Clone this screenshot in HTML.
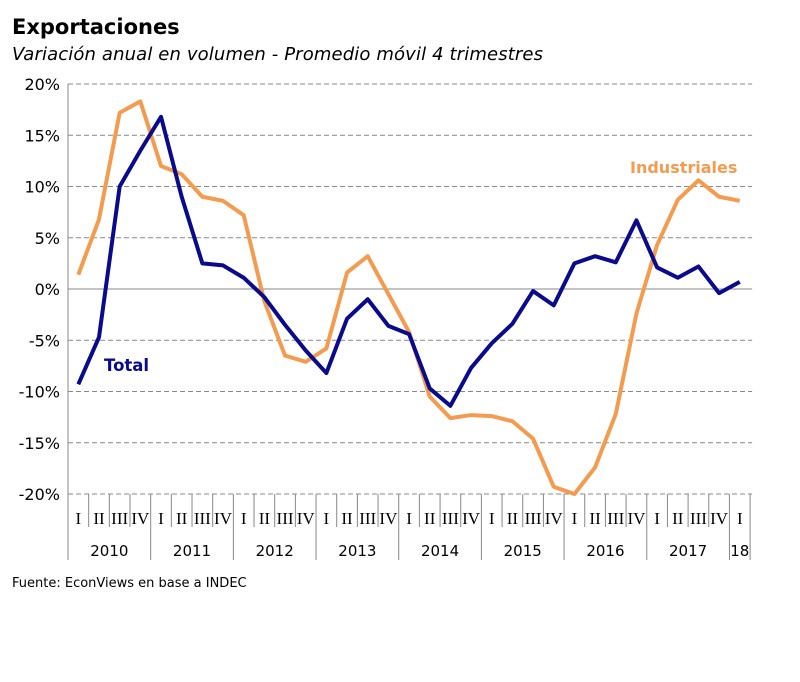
<!DOCTYPE html>
<html><head><meta charset="utf-8"><style>
body{margin:0;background:#fff;width:800px;height:682px;overflow:hidden}
svg{display:block}
</style></head><body>
<svg id="c" width="800" height="682" font-family="Liberation Sans, sans-serif">
<text x="12" y="34" font-size="21" font-weight="bold" font-family="DejaVu Sans, sans-serif" fill="#000">Exportaciones</text>
<text x="12" y="60" font-size="18" font-style="italic" font-family="DejaVu Sans, sans-serif" fill="#000" textLength="531">Variación anual en volumen - Promedio móvil 4 trimestres</text>
<text x="12" y="587" font-size="13" font-family="DejaVu Sans, sans-serif" fill="#000">Fuente: EconViews  en base a INDEC</text>
<g id="grid"></g><g id="axes"></g><g id="series"></g>
<text x="630" y="173" font-size="16" font-weight="bold" font-family="DejaVu Sans, sans-serif" fill="#f39c50">Industriales</text>
<text x="104" y="371" font-size="16.5" font-weight="bold" font-family="DejaVu Sans, sans-serif" fill="#0a0a8c">Total</text>
</svg>
<script>
const years=["2010","2011","2012","2013","2014","2015","2016","2017","18"];
const quarters=["I","II","III","IV"];
const yTicks=[20,15,10,5,0,-5,-10,-15,-20];
const total=[-9.3,-4.7,10,13.5,16.8,9,2.5,2.3,1.1,-0.8,-3.5,-6,-8.2,-2.9,-1,-3.6,-4.4,-9.7,-11.4,-7.7,-5.3,-3.4,-0.2,-1.6,2.5,3.2,2.6,6.7,2.1,1.1,2.2,-0.4,0.7];
const industriales=[1.4,6.8,17.2,18.3,12,11.2,9,8.6,7.2,-1.2,-6.5,-7.1,-5.8,1.6,3.2,-0.5,-4.2,-10.5,-12.6,-12.3,-12.4,-12.9,-14.6,-19.3,-20,-17.4,-12.2,-2.4,4.3,8.7,10.6,9,8.6];
const NS="http://www.w3.org/2000/svg";
const X0=68,QW=20.67,Y0=289,PPU=10.25,XEND=X0+QW*total.length;
const x=i=>X0+QW*(i+0.5), y=v=>Y0-v*PPU;
function mk(t,a,p){const e=document.createElementNS(NS,t);for(const k in a)e.setAttribute(k,a[k]);document.getElementById(p).appendChild(e);return e;}
yTicks.forEach(v=>{
 const l=mk("line",{x1:X0,x2:XEND+2,y1:y(v),y2:y(v),stroke:"#888","stroke-width":1,"stroke-dasharray":v===0?"none":"5,3"},"grid");
 
 
 const t=mk("text",{x:X0-8,y:y(v)+6,"text-anchor":"end","font-size":16,"font-family":"DejaVu Sans, sans-serif",fill:"#000"},"axes");
 t.textContent=v+"%";
 
 
});
const ya=mk("line",{x1:X0,x2:X0,y1:y(20),y2:y(-20),stroke:"#888"},"axes");


for(let i=0;i<=total.length;i++){
 const isYear=i%4===0||i===total.length;
 const l=mk("line",{x1:X0+QW*i,x2:X0+QW*i,y1:y(-20),y2:isYear?560:527,stroke:"#888"},"axes");
 
 
 if(i<total.length){
  const t=mk("text",{x:x(i),y:524,"text-anchor":"middle","font-size":17,"font-family":"Liberation Serif, serif",fill:"#000"},"axes");
  t.textContent=quarters[i%4];
  
  
 }
}
years.forEach((yr,j)=>{
 const n=Math.min(4,total.length-j*4);
 const t=mk("text",{x:X0+QW*(j*4+n/2),y:556,"text-anchor":"middle","font-size":15,"font-family":"DejaVu Sans, sans-serif",fill:"#000"},"axes");
 t.textContent=yr;
 
 
});
function line(d,c,n){
 const p=mk("polyline",{points:d.map((v,i)=>x(i)+","+y(v)).join(" "),fill:"none",stroke:c,"stroke-width":4,"stroke-linejoin":"round"},"series");
 
 
}
line(industriales,"#f39c50","industriales-line");
line(total,"#0a0a8c","total-line");
</script>
</body></html>
